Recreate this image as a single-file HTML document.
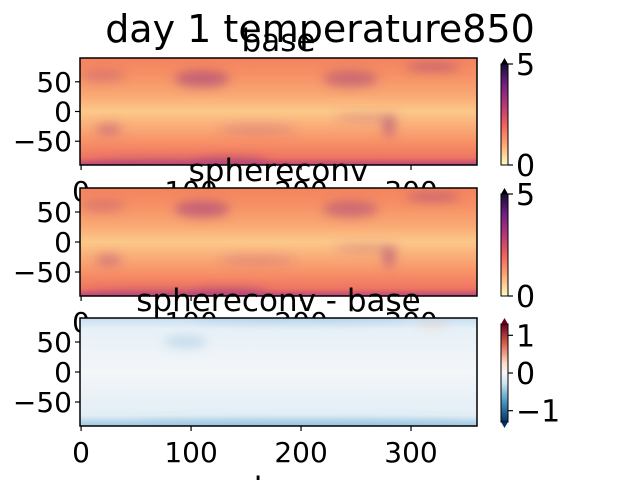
<!DOCTYPE html>
<html><head><meta charset="utf-8"><style>
body{margin:0;background:#fff;}
svg text{font-family:"DejaVu Sans","Liberation Sans",sans-serif;fill:#000;}
</style></head><body>
<svg id="fig" width="640" height="480" viewBox="0 0 640 480" xmlns="http://www.w3.org/2000/svg">
<defs>
<linearGradient id="magma" x1="0" y1="1" x2="0" y2="0">
<stop offset="0" stop-color="#fcfdbf"/><stop offset="0.2" stop-color="#fea973"/><stop offset="0.4" stop-color="#f1605d"/><stop offset="0.6" stop-color="#b5367a"/><stop offset="0.8" stop-color="#721f81"/><stop offset="1" stop-color="#140e36"/>
</linearGradient>
<linearGradient id="rdbu" x1="0" y1="1" x2="0" y2="0">
<stop offset="0" stop-color="#053061"/><stop offset="0.2" stop-color="#4393c3"/><stop offset="0.4" stop-color="#d1e5f0"/><stop offset="0.5" stop-color="#f7f7f7"/><stop offset="0.6" stop-color="#fddbc7"/><stop offset="0.8" stop-color="#d6604d"/><stop offset="1" stop-color="#67001f"/>
</linearGradient>
<linearGradient id="field" x1="0" y1="0" x2="0" y2="1">
<stop offset="0" stop-color="#f3845f"/><stop offset="0.15" stop-color="#f68f64"/><stop offset="0.35" stop-color="#f9a974"/><stop offset="0.5" stop-color="#fcc88a"/><stop offset="0.62" stop-color="#fab07a"/><stop offset="0.8" stop-color="#f78e66"/><stop offset="0.93" stop-color="#ee7562"/><stop offset="1" stop-color="#b8467a"/>
</linearGradient>
<linearGradient id="dfield" x1="0" y1="0" x2="0" y2="1">
<stop offset="0" stop-color="#c6def0"/><stop offset="0.1" stop-color="#e6f0f7"/><stop offset="0.5" stop-color="#f4f6f8"/><stop offset="0.9" stop-color="#e2eef6"/><stop offset="1" stop-color="#9fc8e2"/>
</linearGradient>
<filter id="blur" x="-50%" y="-50%" width="200%" height="200%"><feGaussianBlur stdDeviation="5"/></filter>
</defs>
<text x="320" y="42" font-size="38" text-anchor="middle">day 1 temperature850</text>
<g id="axes"></g>
</svg>
<script>
const xTicks=[0,100,200,300];
const yTicks=[50,0,-50];
const panelTitles=["base","sphereconv","sphereconv - base"];
const cbTicks1=[0,5];
const cbTicks2=[0,5];
const cbTicks3=[-1,0,1];
const cbTickLabels3=["\u22121","0","1"];
// warm features: [lon, lat, lonRadius, latRadius, intensity]
const features=[[110,55,25,14,0.6],[25,-30,12,10,0.4],[245,55,25,14,0.5],[320,75,25,8,0.5],[135,-85,35,8,0.7],[280,-25,6,18,0.5],[160,-30,35,8,0.25],[260,-10,30,6,0.3],[70,-85,60,6,0.5],[20,60,20,10,0.3]];
const diffFeatures=[[95,50,20,10,-0.35],[200,88,100,5,-0.4],[200,-87,150,5,-0.5],[320,80,15,5,0.3]];
const NS="http://www.w3.org/2000/svg";
const g=document.getElementById('axes');
function el(t,a,p){const e=document.createElementNS(NS,t);for(const k in a)e.setAttribute(k,a[k]);(p||g).appendChild(e);return e;}
const X0=80,X1=477;
const panels=[[58,165],[188,296],[318,426]];
function sx(lon){return X0+(lon+1)*(X1-X0)/361;}
panels.forEach((p,i)=>{
 const [y0,y1]=p;
 const sy=lat=>(y0+y1)/2-lat*(y1-y0)/180;
 const grp=el('g',{});
 
 
 const bg=el('rect',{x:X0,y:y0,width:X1-X0,height:y1-y0,fill:i<2?'url(#field)':'url(#dfield)'},grp);
 
 
 const clip=el('clipPath',{id:'c'+i},grp);el('rect',{x:X0,y:y0,width:X1-X0,height:y1-y0},clip);
 const cg=el('g',{'clip-path':'url(#c'+i+')'},grp);
 const fg=el('g',{filter:'url(#blur)'},cg);
 (i<2?features:diffFeatures).forEach(f=>{
  const e=el('ellipse',{cx:sx(f[0]),cy:sy(f[1]),rx:f[2]*1.1,ry:f[3]*0.6,fill:f[4]>0?(i<2?'#a5407e':'#f4a582'):'#7fb3d8',opacity:Math.abs(f[4])},fg);
  
  
 });
 el('rect',{x:X0,y:y0,width:X1-X0,height:y1-y0,fill:'none',stroke:'#000','stroke-width':1.5},grp);
 const t=el('text',{x:(X0+X1)/2,y:y0-7,'font-size':31,'text-anchor':'middle'},grp);t.textContent=panelTitles[i];
 
 
 yTicks.forEach(v=>{const y=sy(v);el('line',{x1:X0-5,x2:X0,y1:y,y2:y,stroke:'#000','stroke-width':1.2},grp);
  const tt=el('text',{x:X0-8,y:y+10,'font-size':28,'text-anchor':'end'},grp);tt.textContent=v<0?'\u2212'+(-v):v;
  
  });
 xTicks.forEach(v=>{const x=sx(v);el('line',{x1:x,x2:x,y1:y1,y2:y1+5,stroke:'#000','stroke-width':1.2},grp);
  const tt=el('text',{x:x,y:y1+36,'font-size':28,'text-anchor':'middle'},grp);tt.textContent=v;
  
  });
 const cx=501,cw=7;
 const cb=el('g',{},grp);
 
 
 let top,bot,ticks,labels,lo,hi;
 if(i<2){top=y0+6;bot=y1;ticks=i==0?cbTicks1:cbTicks2;labels=ticks.map(String);lo=0;hi=5;
  el('rect',{x:cx,y:top,width:cw,height:bot-top,fill:'url(#magma)',stroke:'#000','stroke-width':1},cb);
  el('polygon',{points:`${cx},${top} ${cx+cw},${top} ${cx+cw/2},${y0}`,fill:'#000'},cb);
 }else{top=y0+6;bot=y1-4;ticks=cbTicks3;labels=cbTickLabels3;lo=-1.3;hi=1.3;
  el('rect',{x:cx,y:top,width:cw,height:bot-top,fill:'url(#rdbu)',stroke:'#000','stroke-width':1},cb);
  el('polygon',{points:`${cx},${top} ${cx+cw},${top} ${cx+cw/2},${y0}`,fill:'#67001f'},cb);
  el('polygon',{points:`${cx},${bot} ${cx+cw},${bot} ${cx+cw/2},${y1+2}`,fill:'#053061'},cb);}
 ticks.forEach((v,k)=>{const y=bot-(v-lo)/(hi-lo)*(bot-top);
  el('line',{x1:cx+cw,x2:cx+cw+5,y1:y,y2:y,stroke:'#000','stroke-width':1.2},cb);
  const tt=el('text',{x:cx+cw+8,y:y+11,'font-size':30},cb);tt.textContent=labels[k];
  
  });
});
const xl=el('text',{x:278,y:500,'font-size':32,'text-anchor':'middle'});xl.textContent='lon';


</script>
</body></html>
